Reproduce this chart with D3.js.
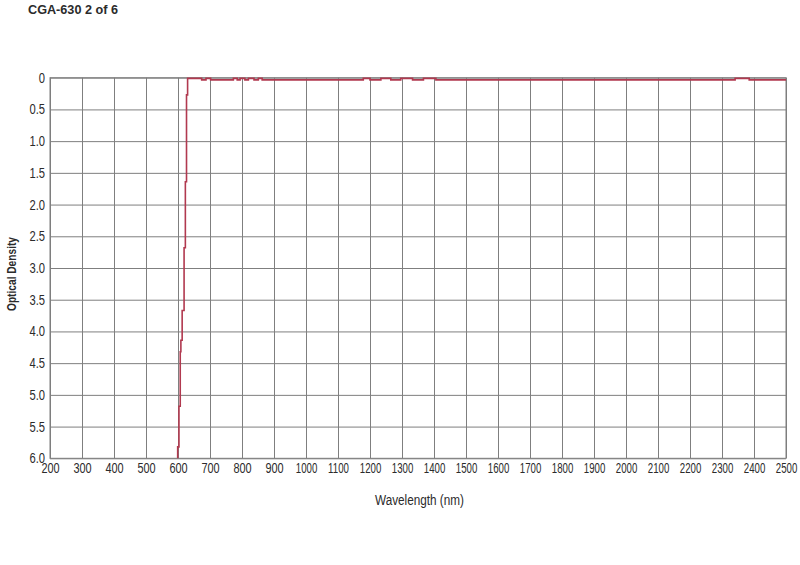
<!DOCTYPE html>
<html>
<head>
<meta charset="utf-8">
<script src="https://cdn.jsdelivr.net/npm/d3@7"></script>
<style>
  body { margin: 0; background: #fff; }
  text { font-family: "Liberation Sans", Arial, sans-serif; }
</style>
</head>
<body>
<div id="chart"></div>
<script>
// --------------------------------------------------
// Optical density spectrum, drawn into id = "chart"

var title = "CGA-630 2 of 6";
var xTitle = "Wavelength (nm)";
var yTitle = "Optical Density";

// tick values and their labels
var xTicks = [200, 300, 400, 500, 600, 700, 800, 900, 1000, 1100, 1200, 1300,
    1400, 1500, 1600, 1700, 1800, 1900, 2000, 2100, 2200, 2300, 2400, 2500];
var yTicks = [0, 0.5, 1, 1.5, 2, 2.5, 3, 3.5, 4, 4.5, 5, 5.5, 6];
var yTickLabels = ["0", "0.5", "1.0", "1.5", "2.0", "2.5", "3.0", "3.5",
    "4.0", "4.5", "5.0", "5.5", "6.0"];

// measured curve (stepped): wavelength (nm) and OD held until next point
var wavelength = [599, 599, 603, 607, 609, 613, 619, 623, 626.6, 630,
    674, 687.5, 702, 773, 785, 794, 809, 820, 837.5, 851, 863,
    1179, 1200, 1234, 1265, 1296, 1333, 1367, 1406, 2341, 2385, 2500];
var density = [6.0, 5.82, 5.18, 4.32, 4.14, 3.67, 2.68, 1.64, 0.27, 0.01,
    0.035, 0.01, 0.035, 0.01, 0.035, 0.01, 0.035, 0.01, 0.035, 0.01, 0.035,
    0.01, 0.035, 0.01, 0.035, 0.01, 0.035, 0.01, 0.035, 0.01, 0.035, 0.035];

var margin = { left: 50, right: 14, top: 77.7, bottom: 106.7 };
var width = 800 - margin.left - margin.right;
var height = 565 - margin.top - margin.bottom;
var gridColor = "#7f7f7f";
var textColor = "#2b2b2b";

// squeeze a text horizontally to look like a condensed face
function condense(sel, ratio) {
    sel.each(function() {
        var w = this.getComputedTextLength();
        d3.select(this)
            .attr("textLength", w * ratio)
            .attr("lengthAdjust", "spacingAndGlyphs");
    });
}

var svg = d3.select("#chart")
    .append("svg")
    .attr("width", 800)
    .attr("height", 565);

// title
svg.append("text")
    .attr("x", 28)
    .attr("y", 13.5)
    .attr("font-size", "13.5px")
    .attr("font-weight", "bold")
    .attr("fill", textColor)
    .attr("textLength", 90)
    .attr("lengthAdjust", "spacingAndGlyphs")
    .text(title);

var g = svg.append("g")
    .attr("transform", "translate(" + margin.left + ", " + margin.top + ")");

var x = d3.scaleLinear()
    .domain([200, 2500])
    .range([0, width]);

var y = d3.scaleLinear()
    .domain([0, 6])
    .range([0, height]);

// x grid + labels
var xAxisCall = d3.axisBottom(x)
    .tickValues(xTicks)
    .tickSize(-height)
    .tickPadding(5)
    .tickFormat(function(d) { return d; });
var xg = g.append("g")
    .attr("class", "x-axis")
    .attr("transform", "translate(0, " + height + ")")
    .call(xAxisCall);

// y grid + labels
var yAxisCall = d3.axisLeft(y)
    .tickValues(yTicks)
    .tickSize(-width)
    .tickPadding(5)
    .tickFormat(function(d, i) { return yTickLabels[i]; });
var yg = g.append("g")
    .attr("class", "y-axis")
    .call(yAxisCall);

[xg, yg].forEach(function(a) {
    a.select(".domain").remove();
    a.selectAll("line").attr("stroke", gridColor).attr("stroke-width", 1);
    a.selectAll("text")
        .attr("font-size", "14px")
        .attr("fill", textColor)
        .style("font-family", "'Liberation Sans', Arial, sans-serif");
});

condense(yg.selectAll("text"), 0.8);
condense(xg.selectAll("text").filter(function(d) { return d < 1000; }), 0.78);
condense(xg.selectAll("text").filter(function(d) { return d >= 1000; }), 0.69);

// frame
g.append("rect")
    .attr("x", 0)
    .attr("y", 0)
    .attr("width", width)
    .attr("height", height)
    .attr("fill", "none")
    .attr("stroke", gridColor)
    .attr("stroke-width", 1);

// axis titles
svg.append("text")
    .attr("x", margin.left + width / 2 + 1.5)
    .attr("y", 505)
    .attr("font-size", "14px")
    .attr("text-anchor", "middle")
    .attr("fill", textColor)
    .attr("textLength", 89)
    .attr("lengthAdjust", "spacingAndGlyphs")
    .text(xTitle);

svg.append("text")
    .attr("transform", "translate(16, 274) rotate(-90)")
    .attr("font-size", "12.5px")
    .attr("font-weight", "bold")
    .attr("text-anchor", "middle")
    .attr("fill", textColor)
    .attr("textLength", 74)
    .attr("lengthAdjust", "spacingAndGlyphs")
    .text(yTitle);

// curve
var pts = wavelength.map(function(w, i) { return [w, density[i]]; });
var line = d3.line()
    .x(function(d) { return x(d[0]); })
    .y(function(d) { return y(d[1]); })
    .curve(d3.curveStepAfter);

g.append("path")
    .datum(pts)
    .attr("d", line)
    .attr("fill", "none")
    .attr("stroke", "#b1394f")
    .attr("stroke-width", 1.6);
</script>
</body>
</html>
